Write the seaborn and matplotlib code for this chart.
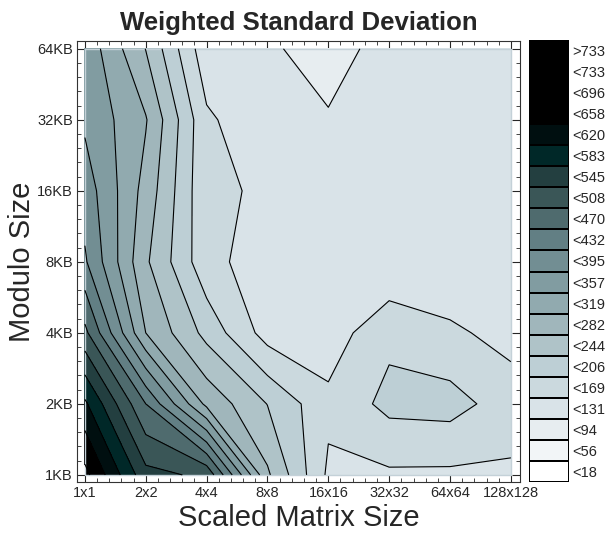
import numpy as np
import matplotlib
matplotlib.use("Agg")
import matplotlib.pyplot as plt
import seaborn as sns
from matplotlib.colors import ListedColormap
from matplotlib.patches import Rectangle

# axes categories
matrix_sizes = ["1x1", "2x2", "4x4", "8x8", "16x16", "32x32", "64x64", "128x128"]
modulo_sizes = ["1KB", "2KB", "4KB", "8KB", "16KB", "32KB", "64KB"]

# weighted standard deviation, one row per modulo size
std_1kb = [670, 520, 500, 250, 124, 125, 124, 125]
std_2kb = [590, 432, 272, 205, 140, 180, 184, 150]
std_4kb = [480, 282, 194, 115, 111, 160, 138, 118]
std_8kb = [400, 250, 143, 111, 110, 96, 100, 105]
std_16kb = [378, 268, 138, 126, 115, 110, 108, 110]
std_32kb = [350, 285, 138, 100, 97, 110, 112, 112]
std_64kb = [345, 243, 105, 99, 80, 107, 110, 112]

# contour levels and the legend labels
levels = [18, 56, 94, 131, 169, 206, 244, 282, 319, 357, 395, 432,
          470, 508, 545, 583, 620, 658, 696, 733]
level_labels = [">733"] + ["<%d" % l for l in levels[::-1]]

# band colours, lowest band first
band_colors = ["#ffffff", "#f2f5f7", "#e7edf0", "#d9e3e8", "#cbd9de",
               "#bdcfd5", "#afc3c8", "#a0b6bb", "#91aaaf", "#819ca1",
               "#728e93", "#627f84", "#4f6b6e", "#3a5657", "#233f40",
               "#002828", "#000f10", "#000000", "#000000", "#000000",
               "#000000"]

Z = np.array([std_1kb, std_2kb, std_4kb, std_8kb, std_16kb, std_32kb, std_64kb])
X, Y = np.meshgrid(np.arange(len(matrix_sizes)), np.arange(len(modulo_sizes)))

sns.set_style("ticks")
plt.rcParams['font.family'] = ['Liberation Sans', 'DejaVu Sans']

fig = plt.figure(figsize=(6.16, 5.37), dpi=100)
ax = fig.add_axes([77/616, 1-482/537, 443/616, 441/537])

bounds = [-1000] + levels + [10000]
ax.contourf(X, Y, Z, levels=bounds, colors=band_colors)
ax.contour(X, Y, Z, levels=levels, colors='black', linewidths=0.8)
ax.add_patch(Rectangle((0, 0), 7, 6, fill=False, edgecolor='#c4d1d8', lw=1))

ax.set_xlim(-0.13, 7.15)
ax.set_ylim(-0.1, 6.11)
ax.set_xticks(range(len(matrix_sizes)))
ax.set_xticklabels(matrix_sizes, fontsize=10.5)
ax.set_yticks(range(len(modulo_sizes)))
ax.set_yticklabels(modulo_sizes, fontsize=10.5)
ax.set_xticks(np.arange(0, 7.01, 0.2), minor=True)
ax.set_yticks(np.arange(0, 6.01, 0.2), minor=True)
ax.tick_params(which='both', direction='in', top=True, right=True, pad=3)
ax.tick_params(which='major', length=6, width=0.8)
ax.tick_params(which='minor', length=3, width=0.6)
for s in ax.spines.values():
    s.set_linewidth(0.8)
    s.set_color('#333333')

ax.set_xlabel("Scaled Matrix Size", fontsize=21, labelpad=3)
ax.set_ylabel("Modulo Size", fontsize=21, labelpad=1)
ax.set_title("Weighted Standard Deviation", fontsize=18.5, fontweight='bold', pad=8)

# legend boxes
lax = fig.add_axes([529/616, 1-482/537, 40/616, 442/537])
legend_vals = np.arange(len(band_colors))[::-1].reshape(-1, 1)
sns.heatmap(legend_vals, ax=lax, cmap=ListedColormap(band_colors), cbar=False,
            linewidths=1.4, linecolor='black', xticklabels=False,
            yticklabels=level_labels, vmin=-0.5, vmax=len(band_colors) - 0.5)
lax.yaxis.tick_right()
lax.tick_params(axis='y', length=0, pad=2, labelsize=10.5, labelrotation=0)

fig.savefig("out.png", dpi=100)
